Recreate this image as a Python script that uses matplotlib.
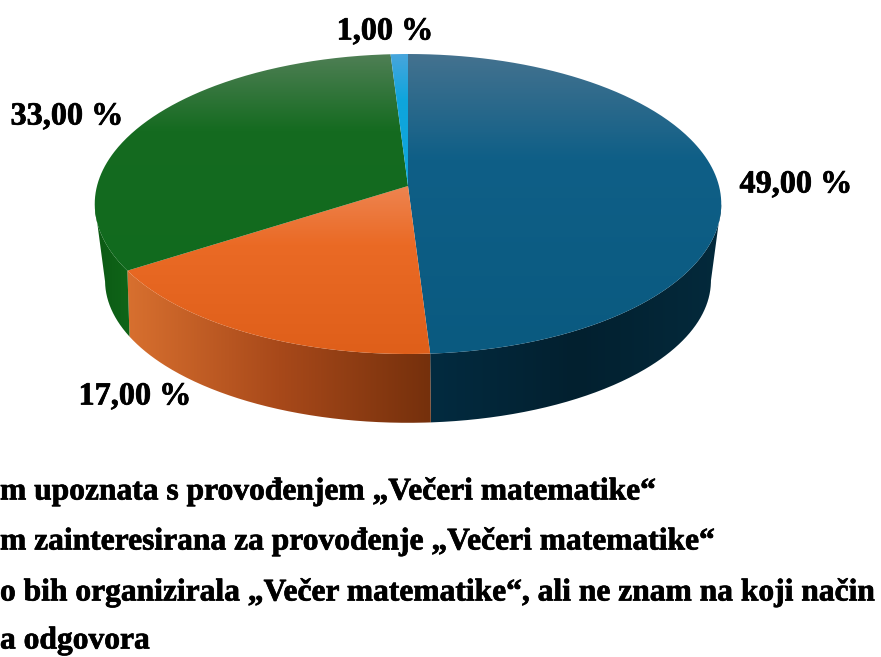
import numpy as np
import matplotlib
matplotlib.use("Agg")
import matplotlib.pyplot as plt
from matplotlib.path import Path
from matplotlib.patches import PathPatch
from matplotlib.colors import LinearSegmentedColormap as LSC
import matplotlib.patheffects as pe

values = [49.0, 17.0, 33.0, 1.0]
value_labels = ["49,00 %", "17,00 %", "33,00 %", "1,00 %"]
legend_lines = ["m upoznata s provođenjem „Večeri matematike“",
                "m zainteresirana za provođenje „Večeri matematike“",
                "o bih organizirala „Večer matematike“, ali ne znam na koji način",
                "a odgovora"]
label_xy = [(796, 185), (135, 397), (67, 117), (385, 32)]
legend_xy = [(0, 492), (0, 542), (0, 593), (0, 641)]

top_cols = [["#44728f", "#0f5f87", "#0a5a80"],
            ["#ee8450", "#ea6a25", "#df5f1a"],
            ["#4f7f55", "#156b20", "#116a1e"],
            ["#48a6dc", "#0ea5dc", "#0ea5dc"]]
side_cols = [["#032b40", "#02202f", "#042a3c"],
             ["#d8702f", "#a8491a", "#75300c"],
             ["#0c5a14", "#0d5f16", "#0f6518"],
             ["#0a6f95", "#0a6f95", "#0a6f95"]]

plt.rcParams["font.family"] = ["Liberation Serif", "DejaVu Serif"]
fig = plt.figure(figsize=(8.81, 6.57), dpi=100)
ax = fig.add_axes([0, 0, 1, 1])
ax.set_xlim(0, 881); ax.set_ylim(657, 0); ax.axis("off")

CX = 408.0
TOP = dict(cy=186.0, r=311.0, a=147.84, k=0.12)
BOT = dict(cy=255.0, r=298.0, a=137.6, k=0.18)

def pt(t, cy, r, a, k):
    u, v = np.sin(t), np.cos(t)
    w = 1 + k * v
    return CX + r * u / w, cy - a * v / w

def grad(path, cols, z, vertical=True, ext=None):
    stops = [(0.0, cols[0]), (0.35, cols[1]), (1.0, cols[2])] if vertical else \
            [(0.0, cols[0]), (0.5, cols[1]), (1.0, cols[2])]
    cm = LSC.from_list("g", stops)
    g = np.linspace(0, 1, 256)
    img = g[:, None] if vertical else g[None, :]
    im = ax.imshow(img, cmap=cm, vmin=0, vmax=1, aspect="auto", extent=ext,
                   origin="upper", zorder=z, interpolation="bilinear")
    im.set_clip_path(PathPatch(path, transform=ax.transData))
    ax.set_xlim(0, 881); ax.set_ylim(657, 0)

def visible(t0, t1, k):
    e = np.pi / 2 + np.arcsin(k)
    return max(t0, e), min(t1, 2 * np.pi - e)

edges = np.cumsum([0] + values) / sum(values) * 2 * np.pi
for i, val in enumerate(values):
    t0, t1 = edges[i], edges[i + 1]
    ts = np.linspace(t0, t1, 240)
    lo, hi = visible(t0, t1, TOP["k"])
    lob, hib = visible(t0, t1, BOT["k"])
    if hi > lo:
        xt, yt = pt(np.linspace(lo, hi, 200), **TOP)
        xb, yb = pt(np.linspace(lob, hib, 200), **BOT)
        wall = Path(np.r_[np.c_[xt, yt], np.c_[xb, yb][::-1], [[xt[0], yt[0]]]])
        x0, x1 = min(xt.min(), xb.min()), max(xt.max(), xb.max())
        grad(wall, side_cols[i], 2, vertical=False, ext=(x0, x1, 440, 180))
    xs, ys = pt(ts, **TOP)
    verts = np.r_[[[CX, TOP["cy"]]], np.c_[xs, ys], [[CX, TOP["cy"]]]]
    grad(Path(verts), top_cols[i], 3,
         ext=(80, 730, verts[:, 1].max(), verts[:, 1].min()))

bold = [pe.withStroke(linewidth=0.5, foreground="black")]
for (x, y), s in zip(label_xy, value_labels):
    ax.text(x, y, s, ha="center", va="center", fontsize=23.2, fontweight="bold",
            color="black", zorder=5, path_effects=bold)
for (x, y), s in zip(legend_xy, legend_lines):
    ax.text(x, y, s, ha="left", va="center", fontsize=22.7, fontweight="bold",
            color="black", zorder=5, path_effects=bold)

fig.savefig("out.png", dpi=100)
